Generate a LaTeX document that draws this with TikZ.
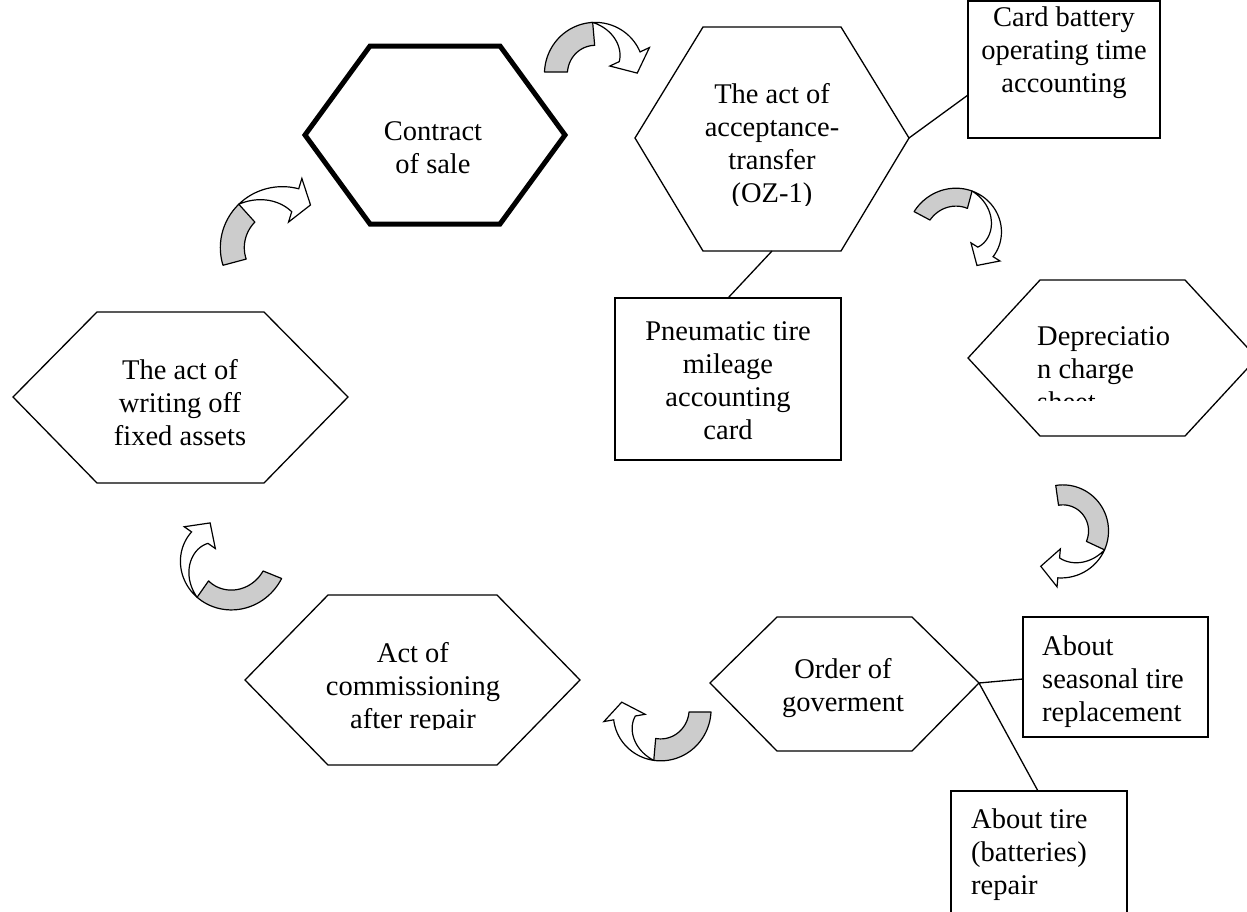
\documentclass[tikz,border=0pt]{standalone}
\usepackage{fontspec}
\setmainfont{Liberation Serif}
\newcommand\bentarrow[9]{%
 \pgfmathsetmacro\bha{#5/2}%
 \pgfmathsetmacro\bhh{#5*0.45}%
 \filldraw[fill=black!20, draw=black, line width=1.2pt, line join=round]
   plot[domain=#6:#7, samples=30] ({#1+(#3+(#4-#3)*(\x-#6)/(#8-#6)+\bha)*cos(\x)}, {#2+(#3+(#4-#3)*(\x-#6)/(#8-#6)+\bha)*sin(\x)})
   -- plot[domain=#7:#6, samples=30] ({#1+(#3+(#4-#3)*(\x-#6)/(#8-#6)-\bha)*cos(\x)}, {#2+(#3+(#4-#3)*(\x-#6)/(#8-#6)-\bha)*sin(\x)})
   -- cycle;
 \filldraw[fill=white, draw=black, line width=1.2pt, line join=miter]
   plot[domain=#7:#8, samples=30] ({#1+(#3+(#4-#3)*(\x-#6)/(#8-#6)+\bha)*cos(\x)}, {#2+(#3+(#4-#3)*(\x-#6)/(#8-#6)+\bha)*sin(\x)})
   -- ({#1+(#4+\bha+\bhh)*cos(#8)}, {#2+(#4+\bha+\bhh)*sin(#8)})
   -- ({#1+#4*cos(#8)-#9*sin(#8)}, {#2+#4*sin(#8)+#9*cos(#8)})
   -- ({#1+(#4-\bha-\bhh)*cos(#8)}, {#2+(#4-\bha-\bhh)*sin(#8)})
   -- plot[domain=#8:#7, samples=30] ({#1+(#3+(#4-#3)*(\x-#6)/(#8-#6)+\bha-#5*(\x-#7)/(#8-#7))*cos(\x)}, {#2+(#3+(#4-#3)*(\x-#6)/(#8-#6)+\bha-#5*(\x-#7)/(#8-#7))*sin(\x)})
   -- cycle;
}
\begin{document}
\begin{tikzpicture}[x=1pt,y=-1pt,
  hexa/.style={draw=black, line width=1.3pt, line join=miter},
  hexthick/.style={draw=black, line width=5pt, line join=miter},
  box/.style={draw=black, line width=1.3pt},
  lbl/.style={font=\fontsize{28.5}{33}\selectfont, inner sep=0pt, anchor=north, align=center},
  lbll/.style={font=\fontsize{28.5}{33}\selectfont, inner sep=0pt, anchor=north west, align=left},
  link/.style={draw=black, line width=1.3pt}]
\fill[white] (0,0) rectangle (1247,911);
\useasboundingbox (0,0) rectangle (1247,911);

% Contract of sale
\draw[hexthick] (305,135) -- (370,46) -- (500,46) -- (565,135) -- (500,224) -- (370,224) -- cycle;
\node[lbl] (tcontract) at (433,121) {Contract\\of sale};

% Acceptance-transfer
\coordinate (accR) at (909,138);
\coordinate (accB) at (772,251);
\draw[hexa] (635,138) -- (703,27) -- (841,27) -- (accR) -- (841,251) -- (703,251) -- cycle;
\begin{scope}
\clip (600,60) rectangle (950,205);
\node[lbl] (tacc) at (772,83) {The act of\\acceptance-\\transfer\\(OZ-1)};
\end{scope}

% Card battery box
\draw[box] (968,1) rectangle (1160,138);
\coordinate (cardL) at (968,95);
\node[lbl] (tcard) at (1064,7) {Card battery\\operating time\\accounting};
\draw[link] (accR) -- (cardL);

% Pneumatic box
\draw[box] (615,298) rectangle (841,460);
\coordinate (pneuT) at (728,298);
\node[lbl] (tpneu) at (728,321) {Pneumatic tire\\mileage\\accounting\\card};
\draw[link] (accB) -- (pneuT);

% Depreciation
\draw[hexa] (968,358) -- (1040,280) -- (1185,280) -- (1257,358) -- (1185,436) -- (1040,436) -- cycle;
\begin{scope}
\clip (1000,300) rectangle (1247,400);
\node[lbll] (tdepr) at (1037,326) {Depreciatio\\n charge\\sheet};
\end{scope}

% Writing off
\draw[hexa] (13,397) -- (97,312) -- (264,312) -- (348,397) -- (264,483) -- (97,483) -- cycle;
\node[lbl] (twrite) at (180,359) {The act of\\writing off\\fixed assets};

% Commissioning
\draw[hexa] (245,680) -- (328,595) -- (497,595) -- (580,680) -- (497,765) -- (328,765) -- cycle;
\begin{scope}
\clip (250,620) rectangle (575,729);
\node[lbl] (tcomm) at (413,642) {Act of\\commissioning\\after repair};
\end{scope}

% Order
\coordinate (ordR) at (979,683);
\draw[hexa] (710,683) -- (777,617) -- (912,617) -- (ordR) -- (912,751) -- (777,751) -- cycle;
\node[lbl] (torder) at (843,658) {Order of\\goverment};

% Seasonal box
\draw[box] (1023,617) rectangle (1208,737);
\coordinate (seasL) at (1023,679);
\node[lbll] (tseas) at (1042,636) {About\\seasonal tire\\replacement};
\draw[link] (ordR) -- (seasL);

% Repair box
\draw[box] (951,791) rectangle (1127,915);
\coordinate (repT) at (1038,791);
\node[lbll] (trep) at (971,809) {About tire\\(batteries)\\repair};
\draw[link] (ordR) -- (repT);

% Curved arrows
\bentarrow{597}{72}{41}{36}{23}{180}{265}{335}{18}
\bentarrow{960}{236}{43}{30}{18}{208}{285}{392}{16}
\bentarrow{1062}{530}{35}{38}{20}{262}{385}{455}{18}
\bentarrow{658}{712}{42}{34}{22}{0}{95}{170}{16}
\bentarrow{226}{556}{50}{32}{20}{22}{125}{215}{18}
\bentarrow{280}{250}{47}{52}{24}{165}{228}{287}{16}
\end{tikzpicture}
\end{document}
